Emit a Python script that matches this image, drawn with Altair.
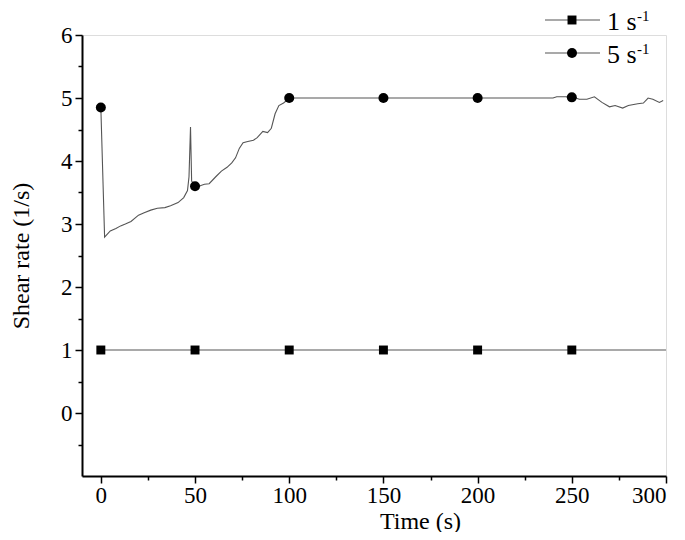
import altair as alt
import pandas as pd

# ---------------- data ----------------
t_1 = [0, 300]
y_1 = [1, 1]
mark_t_1 = [0, 50, 100, 150, 200, 250]
mark_y_1 = [1, 1, 1, 1, 1, 1]

t_5 = [0, 2, 5, 8, 10.5, 13, 16, 20, 23, 26.5, 30, 34, 37, 41, 44, 46, 46.8, 47.6, 48.2,
       50, 52, 55, 57.5, 61, 64, 67, 69.5, 71.5, 73.5, 75.5, 78, 81, 83, 86, 88.5, 90.5,
       92.5, 94.5, 97, 99, 100, 130, 150, 180, 200, 220, 240, 242, 250, 254, 258, 262,
       266, 270, 273, 277, 280, 285, 288, 290.5, 293, 296.5, 298.5]
y_5 = [4.85, 2.79, 2.89, 2.93, 2.97, 3.0, 3.04, 3.14, 3.18, 3.22, 3.25, 3.26, 3.29, 3.34,
       3.42, 3.53, 3.75, 4.54, 3.68, 3.6, 3.6, 3.63, 3.64, 3.75, 3.84, 3.9, 3.97, 4.05, 4.2,
       4.29, 4.31, 4.33, 4.37, 4.47, 4.45, 4.52, 4.75, 4.88, 4.92, 4.97, 5.0, 5.0, 5.0, 5.0,
       5.0, 5.0, 5.0, 5.02, 5.02, 4.98, 4.98, 5.02, 4.93, 4.86, 4.88, 4.84, 4.88, 4.91, 4.92,
       5.0, 4.98, 4.93, 4.96]
mark_t_5 = [0, 50, 100, 150, 200, 250]
mark_y_5 = [4.85, 3.6, 5.0, 5.0, 5.0, 5.01]

x_ticks = [0, 50, 100, 150, 200, 250, 300]
x_minor = [25, 75, 125, 175, 225, 275]
y_ticks = [0, 1, 2, 3, 4, 5, 6]
y_minor = [-0.5, 0.5, 1.5, 2.5, 3.5, 4.5, 5.5]

legend_labels = ["1 s", "5 s"]
legend_sup = "-1"

# ---------------- chart ----------------
FONT = "Liberation Serif"
W, H = 584, 441
XDOM = [-10, 300]
YDOM = [-1, 6]
LINE_COLOR = "#555555"

xs = alt.Scale(domain=XDOM, nice=False, zero=False)
ys = alt.Scale(domain=YDOM, nice=False, zero=False)

axis_common = dict(
    grid=False, domainColor="black", domainWidth=2, tickColor="black", tickWidth=1.5,
    tickSize=7, labelFont=FONT, labelFontSize=23, labelColor="black", titleFont=FONT,
    titleFontSize=24, titleFontWeight="normal", titleColor="black",
)

x_axis = alt.Axis(values=x_ticks, title="Time (s)", labelPadding=1, titleX=338, titleY=45,
                  titleAlign="center", titleBaseline="middle", orient="bottom",
                  **axis_common)
y_axis = alt.Axis(values=y_ticks, title="Shear rate (1/s)", format="d", labelPadding=3,
                  titleX=-61, titleY=H / 2, titleBaseline="middle", titleAngle=-90,
                  orient="left", **axis_common)

df1 = pd.DataFrame({"t": t_1, "y": y_1})
dm1 = pd.DataFrame({"t": mark_t_1, "y": mark_y_1})
df5 = pd.DataFrame({"t": t_5, "y": y_5})
dm5 = pd.DataFrame({"t": mark_t_5, "y": mark_y_5})

X_NONE = dict(scale=xs, axis=None)
Y_NONE = dict(scale=ys, axis=None)

line1 = alt.Chart(df1).mark_line(color=LINE_COLOR, strokeWidth=1.1).encode(
    x=alt.X("t:Q", scale=xs, axis=x_axis),
    y=alt.Y("y:Q", scale=ys, axis=y_axis),
)
pts1 = alt.Chart(dm1).mark_point(shape="square", filled=True, color="black", size=80,
                                 opacity=1).encode(
    x=alt.X("t:Q", **X_NONE), y=alt.Y("y:Q", **Y_NONE))
line5 = alt.Chart(df5).mark_line(color=LINE_COLOR, strokeWidth=1.1).encode(
    x=alt.X("t:Q", **X_NONE), y=alt.Y("y:Q", **Y_NONE))
pts5 = alt.Chart(dm5).mark_point(shape="circle", filled=True, color="black", size=100,
                                 opacity=1).encode(
    x=alt.X("t:Q", **X_NONE), y=alt.Y("y:Q", **Y_NONE))

minor_common = dict(grid=False, domain=False, labels=False, title=None, tickColor="black",
                    tickWidth=1.5, tickSize=4)
minor = alt.Chart(pd.DataFrame({"t": x_minor + [x_minor[0]], "y": y_minor})).mark_point(
    opacity=0).encode(
    x=alt.X("t:Q", scale=xs, axis=alt.Axis(values=x_minor, orient="bottom", **minor_common)),
    y=alt.Y("y:Q", scale=ys, axis=alt.Axis(values=y_minor, orient="left", **minor_common)),
)

# ---------------- legend (drawn manually) ----------------
LX0, LX1, LM, LT = 463, 518, 490, 525
LY = [-15, 18]
shapes = ["square", "circle"]
sizes = [80, 100]
leg_layers = []
for i, lab in enumerate(legend_labels):
    d = pd.DataFrame({"lab": [lab], "sup": [legend_sup]})
    base = alt.Chart(d)
    leg_layers.append(base.mark_rule(color=LINE_COLOR, strokeWidth=1.1).encode(
        x=alt.value(LX0), x2=alt.value(LX1), y=alt.value(LY[i])))
    leg_layers.append(base.mark_point(shape=shapes[i], filled=True, color="black",
                                      size=sizes[i], opacity=1).encode(
        x=alt.value(LM), y=alt.value(LY[i])))
    leg_layers.append(base.mark_text(font=FONT, fontSize=26, align="left", baseline="middle",
                                     color="black").encode(
        x=alt.value(LT), y=alt.value(LY[i] + 2), text="lab:N"))
    leg_layers.append(base.mark_text(font=FONT, fontSize=15, align="left", baseline="middle",
                                     color="black").encode(
        x=alt.value(LT + 30), y=alt.value(LY[i] - 4), text="sup:N"))

chart = alt.layer(line1, line5, pts1, pts5, minor, *leg_layers).resolve_axis(
    x="independent", y="independent"
).properties(
    width=W, height=H,
    autosize=alt.AutoSizeParams(type="none"),
    padding={"left": 74, "top": 27, "right": 11, "bottom": 56},
).configure_view(stroke=None).configure(background="white")

chart.save("out.html", embed_options={"renderer": "svg", "actions": False})
